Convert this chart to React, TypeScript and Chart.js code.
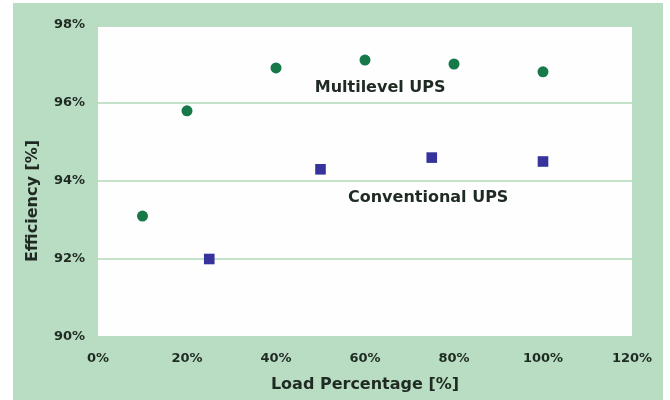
import React, { useEffect, useRef } from "react";
import { Chart, registerables } from "chart.js";

Chart.register(...registerables);

// Data
const multilevelLoad = [10, 20, 40, 60, 80, 100];
const multilevelEff = [93.1, 95.8, 96.9, 97.1, 97.0, 96.8];
const conventionalLoad = [25, 50, 75, 100];
const conventionalEff = [92.0, 94.3, 94.6, 94.5];
const seriesNames = ["Multilevel UPS", "Conventional UPS"];
// label anchors in data units (load %, efficiency %)
const labelAnchorX = [63.4, 74.2];
const labelAnchorY = [96.4, 93.58];
const xTitle = "Load Percentage [%]";
const yTitle = "Efficiency [%]";

const FONT = "'DejaVu Sans', 'Liberation Sans', Arial, sans-serif";
const BG_GREEN = "#b8ddc2";
const TEXT = "#1f2a23";

const bgPlugin = {
  id: "bgPlugin",
  beforeDraw(chart: any) {
    const { ctx, chartArea, width, height } = chart;
    ctx.save();
    ctx.fillStyle = "#ffffff";
    ctx.fillRect(0, 0, width, height);
    ctx.fillStyle = BG_GREEN;
    ctx.fillRect(13, 3, 650, height - 3);
    ctx.fillStyle = "#fdfefd";
    ctx.fillRect(
      chartArea.left,
      chartArea.top + 2,
      chartArea.right - chartArea.left,
      chartArea.bottom - chartArea.top - 3
    );
    ctx.restore();
  },
};

const labelPlugin = {
  id: "labelPlugin",
  afterDatasetsDraw(chart: any) {
    const { ctx, scales, chartArea } = chart;
    ctx.save();
    ctx.font = `bold 16px ${FONT}`;
    ctx.fillStyle = TEXT;
    ctx.textAlign = "center";
    ctx.textBaseline = "middle";
    seriesNames.forEach((name, i) => {
      const x = scales.x.getPixelForValue(labelAnchorX[i]);
      const y = scales.y.getPixelForValue(labelAnchorY[i]);
      ctx.fillText(name, x, y);
    });
    // y-axis title, placed a little below the plot centre as in the source
    ctx.translate(33, (chartArea.top + chartArea.bottom) / 2 + 20);
    ctx.rotate(-Math.PI / 2);
    ctx.fillText(yTitle, 0, 0);
    ctx.restore();
  },
};

export default function App() {
  const ref = useRef<HTMLCanvasElement>(null);
  useEffect(() => {
    if (!ref.current) return;
    const chart = new Chart(ref.current, {
      type: "scatter",
      data: {
        datasets: [
          {
            label: seriesNames[0],
            data: multilevelLoad.map((x, i) => ({ x, y: multilevelEff[i] })),
            pointStyle: "circle",
            pointRadius: 5.5,
            backgroundColor: "#17784a",
            borderColor: "#17784a",
            borderWidth: 0,
          },
          {
            label: seriesNames[1],
            data: conventionalLoad.map((x, i) => ({ x, y: conventionalEff[i] })),
            pointStyle: "rect",
            pointRadius: 7.5,
            backgroundColor: "#36349c",
            borderColor: "#36349c",
            borderWidth: 0,
          },
        ],
      },
      options: {
        animation: false,
        responsive: false,
        maintainAspectRatio: false,
        devicePixelRatio: 1,
        layout: { padding: { left: 0, top: 25, right: 38, bottom: 0 } },
        plugins: {
          legend: { display: false },
          tooltip: { enabled: false },
          title: { display: false },
        },
        scales: {
          x: {
            type: "linear",
            min: 0,
            max: 120,
            border: { display: false },
            grid: { display: false, drawTicks: false },
            ticks: {
              stepSize: 20,
              padding: 14,
              color: TEXT,
              font: { family: FONT, size: 13, weight: "bold" },
              callback: (v: any) => `${v}%`,
            },
            title: {
              display: true,
              text: xTitle,
              color: TEXT,
              padding: { top: 0, bottom: 6 },
              font: { family: FONT, size: 16, weight: "bold" },
            },
            afterFit: (s: any) => {
              s.height = 63;
            },
          },
          y: {
            type: "linear",
            min: 90,
            max: 98,
            border: { display: false },
            grid: {
              drawTicks: false,
              lineWidth: 2,
              color: (c: any) =>
                c.tick && (c.tick.value === 90 || c.tick.value === 98)
                  ? "rgba(0,0,0,0)"
                  : "#c4e2ca",
            },
            ticks: {
              stepSize: 2,
              padding: 13,
              color: TEXT,
              font: { family: FONT, size: 13, weight: "bold" },
              callback: (v: any) => `${v}%`,
            },
            title: { display: false },
            afterFit: (s: any) => {
              s.width = 98;
            },
          },
        },
      },
      plugins: [bgPlugin, labelPlugin],
    } as any);
    return () => chart.destroy();
  }, []);
  return (
    <div style={{ position: "absolute", left: 0, top: 0, width: 670, height: 400 }}>
      <canvas ref={ref} width={670} height={400} />
    </div>
  );
}
